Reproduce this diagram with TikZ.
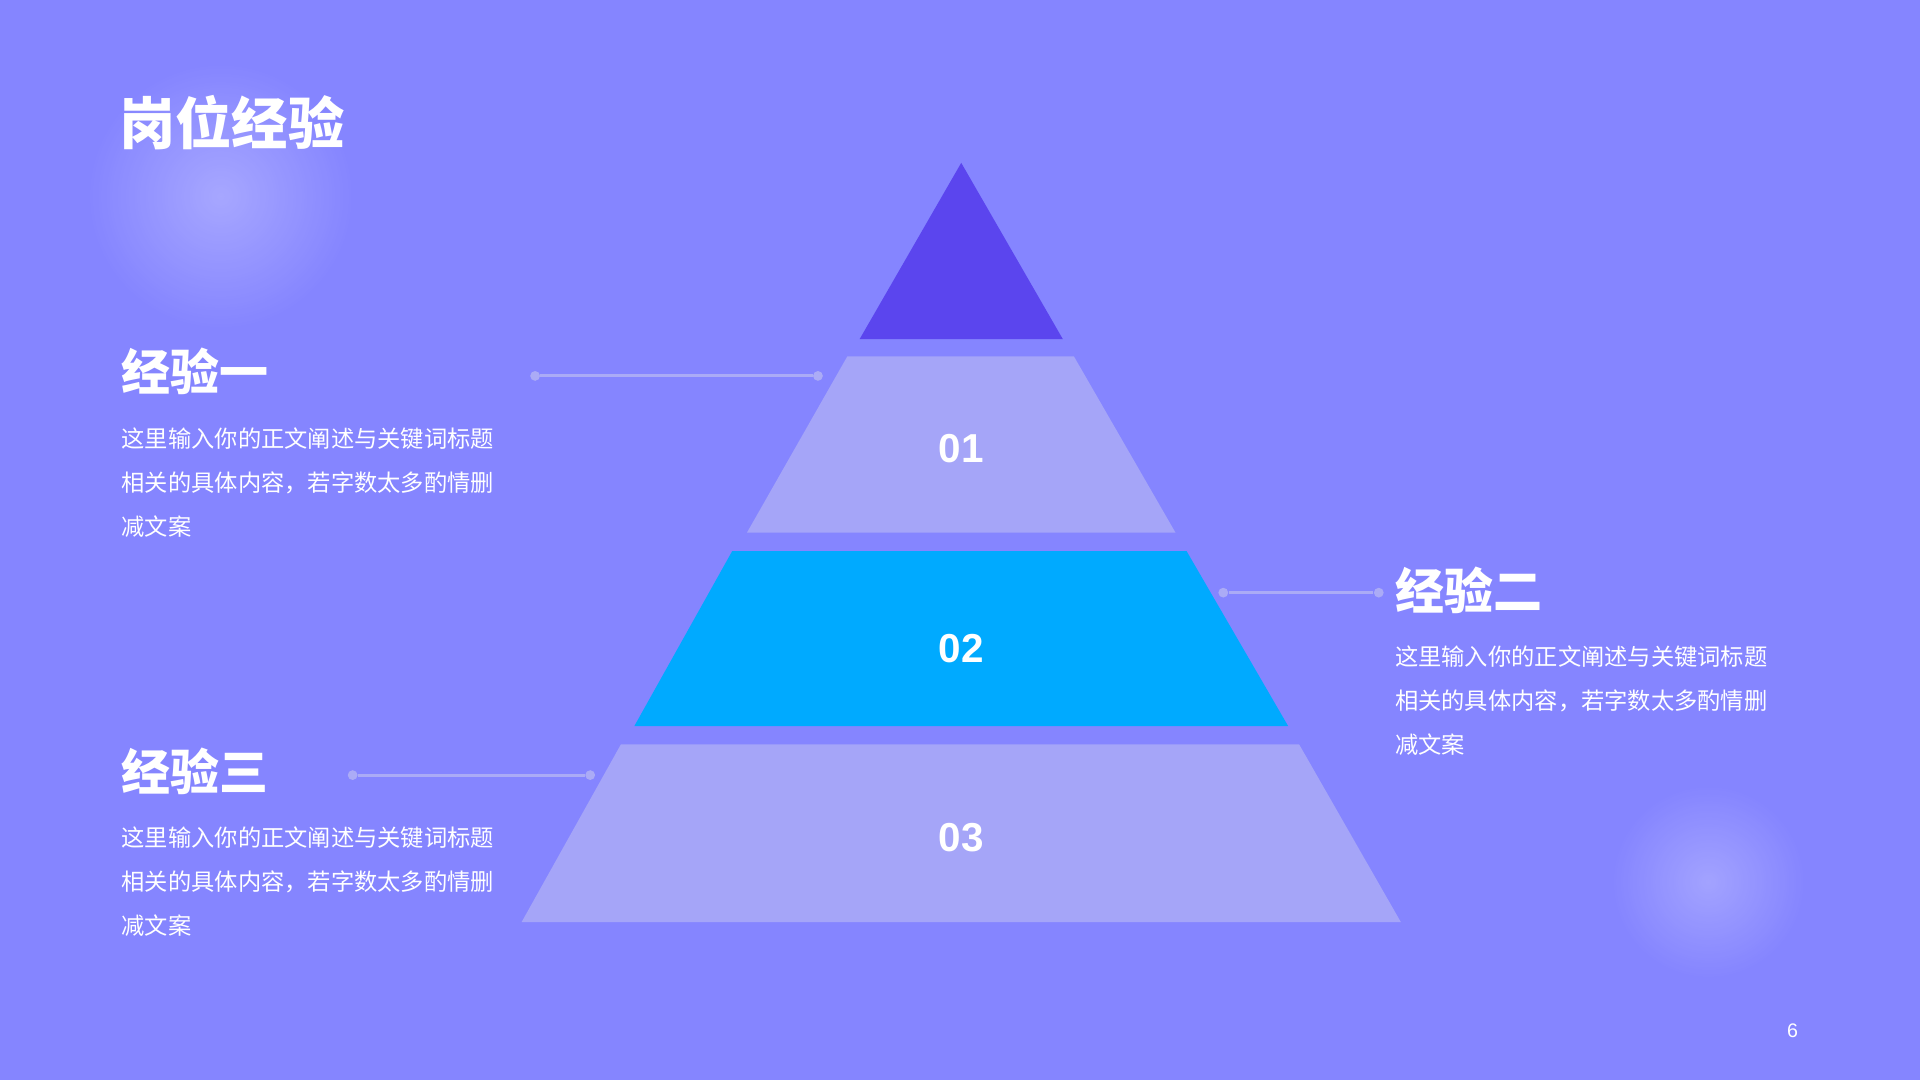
\documentclass[tikz,border=0pt]{standalone}
\usepackage{fontspec}
\newfontfamily\cjk{Noto Sans CJK SC}
\newfontfamily\numf{Liberation Sans}
\usetikzlibrary{shadings}
\definecolor{bg}{HTML}{8585FF}
\definecolor{topc}{HTML}{5B45EE}
\definecolor{band}{HTML}{A5A5F8}
\definecolor{blue2}{HTML}{00AAFF}
\definecolor{linec}{HTML}{ABABF6}
\tikzset{
 lbl/.style={font=\cjk\bfseries\fontsize{20}{24}\selectfont, text=white, anchor=west, inner sep=0},
 body/.style={font=\cjk\fontsize{9.5}{18}\selectfont, text=white, anchor=north west, align=left, inner sep=0},
 num/.style={font=\numf\bfseries\fontsize{16.5}{20}\selectfont, text=white},
 conn/.style={draw=linec, line width=1.2pt},
 dotc/.style={circle, fill=linec, inner sep=0, minimum size=4pt}
}
\begin{document}
\begin{tikzpicture}[x=0.5pt,y=-0.5pt]
\fill[bg] (0,0) rectangle (1568,882);
\useasboundingbox (0,0) rectangle (1568,882);
\shade[inner color=white!40!bg, outer color=bg, opacity=0.7] (180,160) ellipse (110 and 110);
\shade[inner color=white!35!bg, outer color=bg, opacity=0.7] (1395,720) ellipse (80 and 80);
% pyramid
\fill[topc] (785,133) -- (868,277) -- (702,277) -- cycle;
\fill[band] (692,291) -- (877,291) -- (960,435) -- (610,435) -- cycle;
\fill[blue2] (598,450) -- (969,450) -- (1052,593) -- (518,593) -- cycle;
\fill[band] (507,608) -- (1061,608) -- (1144,753) -- (426,753) -- cycle;
\node[num] (n1) at (785,366) {01};
\node[num] (n2) at (785,530) {02};
\node[num] (n3) at (785,684) {03};
% title
\node[font=\cjk\bfseries\fontsize{23}{28}\selectfont, text=white, anchor=west, inner sep=0] (title) at (97,100) {岗位经验};
% items
\node[lbl] (h1) at (99,303) {经验一};
\node[body] (b1) at (99,349) {这里输入你的正文阐述与关键词标题\\相关的具体内容，若字数太多酌情删\\减文案};
\node[lbl] (h2) at (1139,482) {经验二};
\node[body] (b2) at (1139,527) {这里输入你的正文阐述与关键词标题\\相关的具体内容，若字数太多酌情删\\减文案};
\node[lbl] (h3) at (99,630) {经验三};
\node[body] (b3) at (99,675) {这里输入你的正文阐述与关键词标题\\相关的具体内容，若字数太多酌情删\\减文案};
% connectors
\node[dotc] (a1) at (437,307) {}; \node[dotc] (a2) at (668,307) {};
\draw[conn] (a1) -- (a2);
\node[dotc] (c1) at (999,484) {}; \node[dotc] (c2) at (1126,484) {};
\draw[conn] (c1) -- (c2);
\node[dotc] (d1) at (288,633) {}; \node[dotc] (d2) at (482,633) {};
\draw[conn] (d1) -- (d2);
\node[font=\numf\fontsize{8}{10}\selectfont, text=white] (pg) at (1464,842) {6};
\end{tikzpicture}
\end{document}
